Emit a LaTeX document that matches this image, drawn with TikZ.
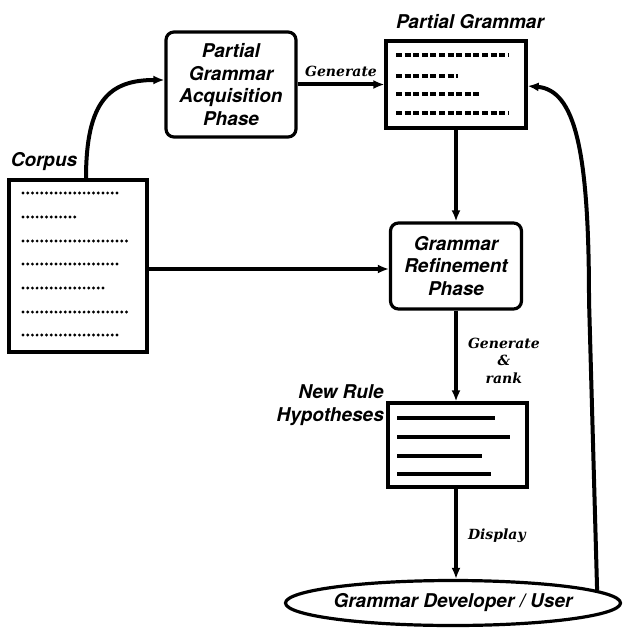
\documentclass[tikz,border=0pt]{standalone}
\usepackage{fontspec}
\newfontfamily\heros{TeX Gyre Heros}
\newfontfamily\actserif{DejaVu Serif}
\usetikzlibrary{arrows.meta,shapes.geometric}

\newcommand{\boxfont}{\heros\bfseries\itshape\fontsize{19}{22.5}\selectfont}
\newcommand{\actfont}{\actserif\bfseries\itshape\fontsize{14}{17.5}\selectfont}

\tikzset{
  phase/.style={draw, line width=3.2pt, rounded corners=8pt, align=center, inner sep=0pt, font=\boxfont},
  doc/.style={draw, line width=3.2pt, inner sep=0pt},
  title/.style={font=\boxfont, align=right, inner sep=0pt},
  flow/.style={line width=4pt, -{Latex[length=11pt,width=9pt]}},
  act/.style={font=\actfont, align=center, inner sep=0pt},
  dotline/.style={line width=3.2pt, line cap=round, dash pattern=on 0pt off 4.7pt},
  dashline/.style={line width=3.4pt, dash pattern=on 6pt off 2.6pt},
  ruleline/.style={line width=3.4pt}
}

\begin{document}
\begin{tikzpicture}[x=1pt,y=-1pt]
  \useasboundingbox (0,0) rectangle (623,628);
  % boxes
  \node[doc, minimum width=138pt, minimum height=172pt] (corpus) at (78,266) {};
  \node[phase, minimum width=130pt, minimum height=105pt] (acq) at (231,84.5) {Partial\\Grammar\\Acquisition\\Phase};
  \node[doc, minimum width=140pt, minimum height=87pt] (pg) at (456,84.5) {};
  \node[phase, minimum width=131pt, minimum height=86pt] (ref) at (456,266) {Grammar\\Refinement\\Phase};
  \node[doc, minimum width=139pt, minimum height=84pt] (nr) at (457.5,445) {};
  \node[draw, ellipse, line width=3.2pt, minimum width=335pt, minimum height=45pt, inner sep=0pt, font=\boxfont] (user) at (453,603) {\makebox[0pt]{Grammar Developer / User}};
  % titles
  \node[title] (corpuslbl) at (44,162) {Corpus};
  \node[title] (pglbl) at (470,22) {Partial Grammar};
  \node[title, anchor=east] (nrlbl) at (384,405) {New Rule\\Hypotheses};
  % contents
  \foreach \y/\e in {193/117,217/79,241/127,264/117,288/107,312/127,335/117}
    \draw[dotline] (23,\y) -- (\e,\y);
  \foreach \y/\e in {55/508,76/458,94/479,113/508}
    \draw[dashline] (396,\y) -- (\e,\y);
  \foreach \y/\e in {418/495,437/510,456/482,474/491}
    \draw[ruleline] (397,\y) -- (\e,\y);
  % connectors
  \draw[flow] ([xshift=8pt]corpus.north) .. controls (86,100) and (110,80) .. ([yshift=4.5pt]acq.west);
  \draw[flow] (acq.east) -- node[act, above=6pt] (gen1) {Generate} (pg.west);
  \draw[flow] (pg.south) -- (ref.north);
  \draw[flow] ([yshift=-3pt]corpus.east) -- ([yshift=-3pt]ref.west);
  \draw[flow] (ref.south) -- node[act, right=10pt, pos=.55] (gen2) {Generate\\\&\\rank} (ref.south |- nr.north);
  \draw[flow] (ref.south |- nr.south) -- node[act, right=10pt, pos=.52] (disp) {Display} (ref.south |- user.north);
  \draw[flow] (user.5.7) -- (589,300) .. controls (589,150) and (575,90) .. ([yshift=-1.5pt]pg.east);
\end{tikzpicture}
\end{document}
